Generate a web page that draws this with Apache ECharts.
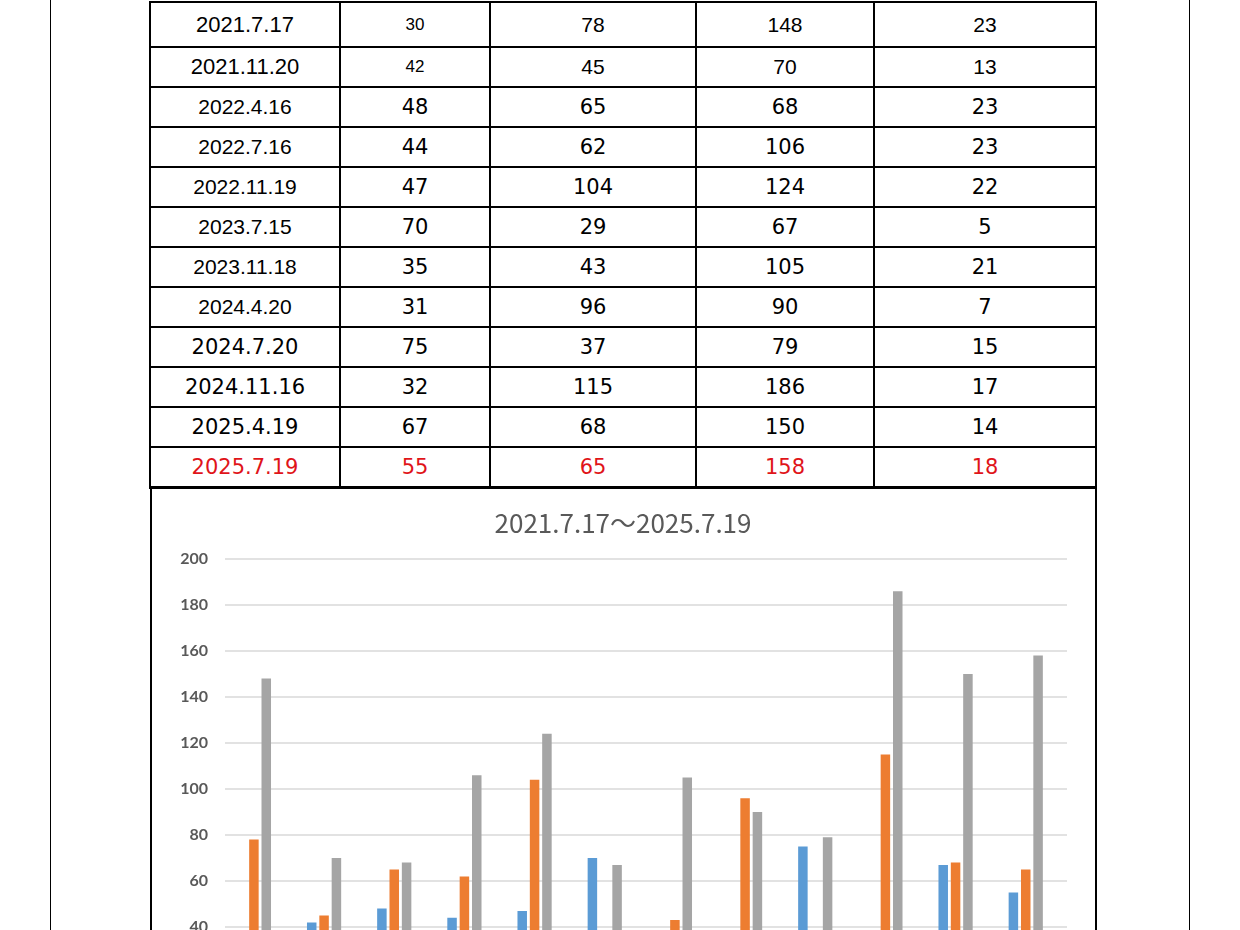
<!DOCTYPE html>
<html>
<head>
<meta charset="utf-8">
<script src="https://cdn.jsdelivr.net/npm/echarts@6/dist/echarts.min.js"></script>
<style>
  html, body { margin: 0; padding: 0; background: #fff; width: 1240px; height: 930px; overflow: hidden; }
  .page-line { position: absolute; top: 0; width: 1px; height: 930px; background: #000; }
  #tbl { position: absolute; left: 149px; top: 1px; border-collapse: collapse; table-layout: fixed; width: 946px; }
  #tbl td { border: 2px solid #000; text-align: center; padding: 0; color: #000; white-space: nowrap; }
  #tbl tr:last-child td { border-bottom-width: 3px; }
  .f-arial { font-family: "Liberation Sans", Arial, sans-serif; font-size: 21px; }
  .f-arial-s { font-family: "Liberation Sans", Arial, sans-serif; font-size: 17px; }
  .f-arial-d { font-family: "Liberation Sans", Arial, sans-serif; font-size: 22px; }
  .f-narrow { font-family: "Liberation Sans Narrow", "Liberation Sans", sans-serif; font-size: 21px; }
  .f-goth { font-family: "DejaVu Sans", sans-serif; font-size: 21px; }
  .f-goth-d { font-family: "DejaVu Sans", sans-serif; font-size: 21px; }
  .red td { color: #e01419 !important; }
  #box { position: absolute; left: 150px; top: 487px; width: 947px; height: 640px; border: 2.5px solid #000; box-sizing: border-box; }
  #chart { position: absolute; left: 0; top: 0; width: 942px; height: 600px; }
</style>
</head>
<body>
<div class="page-line" style="left:50px"></div>
<div class="page-line" style="left:1189px"></div>
<table id="tbl">
  <colgroup>
    <col style="width:190px"><col style="width:150px"><col style="width:206px"><col style="width:178px"><col style="width:222px">
  </colgroup>
  <tbody id="tbody"></tbody>
</table>
<div id="box"><div id="chart"></div></div>
<script>
// dates of each survey
const dates = ['2021.7.17', '2021.11.20', '2022.4.16', '2022.7.16', '2022.11.19', '2023.7.15',
  '2023.11.18', '2024.4.20', '2024.7.20', '2024.11.16', '2025.4.19', '2025.7.19'];
// table columns (series)
const colA = [30, 42, 48, 44, 47, 70, 35, 31, 75, 32, 67, 55];
const colB = [78, 45, 65, 62, 104, 29, 43, 96, 37, 115, 68, 65];
const colC = [148, 70, 68, 106, 124, 67, 105, 90, 79, 186, 150, 158];
const colD = [23, 13, 23, 23, 22, 5, 21, 7, 15, 17, 14, 18];
const yTicks = [0, 20, 40, 60, 80, 100, 120, 140, 160, 180, 200];

// build the table
const tbody = document.getElementById('tbody');
dates.forEach((d, i) => {
  const tr = document.createElement('tr');
  tr.style.height = (i === 0 ? 45 : 40) + 'px';
  if (i === dates.length - 1) tr.className = 'red';
  let dateCls, valCls, firstValCls;
  if (i < 2) { dateCls = 'f-arial-d'; valCls = 'f-arial'; firstValCls = 'f-arial-s'; }
  else if (i < 8) { dateCls = 'f-narrow'; valCls = 'f-goth'; firstValCls = 'f-goth'; }
  else { dateCls = 'f-goth-d'; valCls = 'f-goth'; firstValCls = 'f-goth'; }
  const cells = [[d, dateCls], [colA[i], firstValCls], [colB[i], valCls], [colC[i], valCls], [colD[i], valCls]];
  cells.forEach(([txt, cls]) => {
    const td = document.createElement('td');
    td.className = cls;
    td.textContent = txt;
    tr.appendChild(td);
  });
  tbody.appendChild(tr);
});

let chart = echarts.init(document.getElementById('chart'));
const option = {
  animation: false,
  title: {
    text: dates[0] + '～' + dates[dates.length - 1],
    left: 'center',
    top: 16,
    textStyle: {
      fontFamily: 'Noto Sans CJK JP',
      fontWeight: 'normal',
      fontSize: 26,
      color: '#595959'
    }
  },
  grid: { left: 73, right: 27, top: 70, height: 460 },
  xAxis: {
    type: 'category',
    data: dates,
    axisLine: { lineStyle: { color: '#d9d9d9' } },
    axisTick: { show: false },
    axisLabel: { color: '#595959', fontSize: 13 }
  },
  yAxis: {
    type: 'value',
    min: yTicks[0],
    max: yTicks[yTicks.length - 1],
    interval: 20,
    axisLine: { show: false },
    axisTick: { show: false },
    axisLabel: { color: '#595959', fontSize: 16, fontWeight: 'bold', fontFamily: 'Lato', margin: 17 },
    splitLine: { lineStyle: { color: '#d9d9d9', width: 1.5 } }
  },
  series: [
    { type: 'bar', name: 'A', data: colA, barWidth: 9.5, barGap: '30%', itemStyle: { color: '#5b9bd5' } },
    { type: 'bar', name: 'B', data: colB, barWidth: 9.5, barGap: '30%', itemStyle: { color: '#ed7d31' } },
    { type: 'bar', name: 'C', data: colC, barWidth: 9.5, barGap: '30%', itemStyle: { color: '#a5a5a5' } },
    { type: 'bar', name: 'D', data: colD, barWidth: 9.5, barGap: '30%', itemStyle: { color: '#ffc000' } }
  ]
};
chart.setOption(option);
</script>
</body>
</html>
